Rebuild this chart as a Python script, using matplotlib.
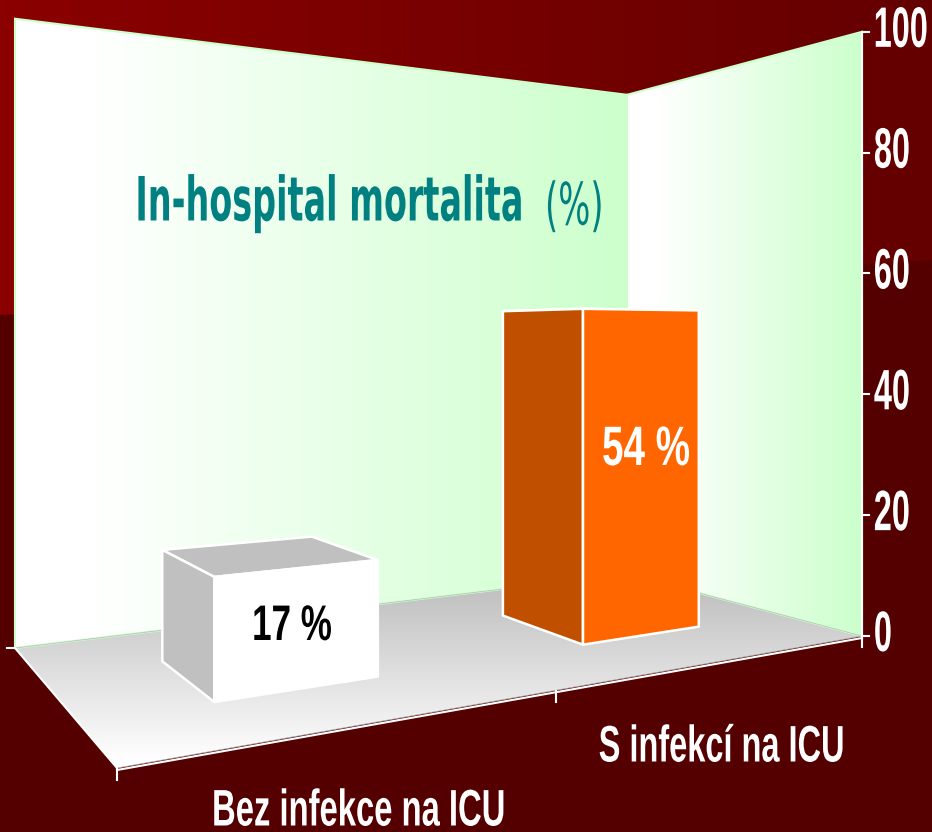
import matplotlib
matplotlib.use('Agg')
import matplotlib.pyplot as plt
import matplotlib.patheffects as pe
from matplotlib.patches import Polygon
from matplotlib.text import Text
from matplotlib.transforms import Affine2D, Bbox
import numpy as np

categories = ['Bez infekce na ICU', 'S infekcí na ICU']
values = [17, 54]
value_labels = ['17 %', '54 %']
y_ticks = [0, 20, 40, 60, 80, 100]

WIDTH, HEIGHT = 932, 832

# floor corners on the picture, the rest of the box follows from them
front_left = (117, 768)
front_right = (862, 636)
back_right = (627, 574)
back_left = (15, 648)
# height scale, fitted on the three wall edges
Z_SCALE = 8.64
Z_G, Z_H = 0.43, 0.373
CAT_SHIFT = -0.005  # categories sit a bit left of the even split


def make_projection():
    x0, y0 = front_left
    x1, y1 = front_right
    x2, y2 = back_right
    x3, y3 = back_left
    det = (x1 - x2) * (y3 - y2) - (x3 - x2) * (y1 - y2)
    sx = x0 - x1 + x2 - x3
    sy = y0 - y1 + y2 - y3
    g = (sx * (y3 - y2) - (x3 - x2) * sy) / det
    h = ((x1 - x2) * sy - sx * (y1 - y2)) / det
    a, b, c = x1 - x0 + g * x1, x3 - x0 + h * x3, x0
    d, e, f = y1 - y0 + g * y1, y3 - y0 + h * y3, y0

    def project(u, v, z=0):
        w = 1 + g * u + h * v
        lift = Z_SCALE * z / (1 + Z_G * u + Z_H * v)
        return (a * u + b * v + c) / w, (d * u + e * v + f) / w - lift
    return project


project = make_projection()


class Squeeze(pe.AbstractPathEffect):
    # the slide text is a stretched-narrow Arial, matplotlib has no such face
    def __init__(self, sx, x0):
        super().__init__()
        self.sx = sx
        self.x0 = x0

    def draw_path(self, renderer, gc, tpath, affine, rgbFace=None):
        squeeze = Affine2D().translate(-self.x0, 0).scale(self.sx, 1).translate(self.x0, 0)
        renderer.draw_path(gc, tpath, affine + squeeze, rgbFace)


class NarrowText(Text):
    def __init__(self, *args, squeeze=1.0, anchor=0.0, **kwargs):
        super().__init__(*args, **kwargs)
        self.squeeze = squeeze
        self.anchor = anchor

    def get_window_extent(self, renderer=None, dpi=None):
        bb = super().get_window_extent(renderer, dpi)
        return Bbox.from_extents(self.anchor + (bb.x0 - self.anchor) * self.squeeze, bb.y0,
                                 self.anchor + (bb.x1 - self.anchor) * self.squeeze, bb.y1)


def label(x, y, s, size, sx, color='white', weight='bold', ha='center', family='Liberation Sans'):
    x0 = ax.transData.transform((x, y))[0]
    t = NarrowText(x, y, s, squeeze=sx, anchor=x0, fontsize=size, color=color, fontweight=weight,
                   ha=ha, va='center', family=family, zorder=20)
    t.set_path_effects([Squeeze(sx, x0)])
    ax.add_artist(t)


def gradient(pts, c_start, c_end, vertical=False, start=None, end=None, zorder=1):
    pts = np.array(pts)
    c_start = np.array(matplotlib.colors.to_rgb(c_start))
    c_end = np.array(matplotlib.colors.to_rgb(c_end))
    x_min, x_max, y_min, y_max = pts[:, 0].min(), pts[:, 0].max(), pts[:, 1].min(), pts[:, 1].max()
    t = np.linspace(0, 1, 256)
    if start is not None:
        lo, hi = (y_min, y_max) if vertical else (x_min, x_max)
        pos = lo + t * (hi - lo)
        t = np.clip((pos - start) / (end - start), 0, 1)
    col = c_start + (c_end - c_start) * t[:, None]
    img = col[:, None, :] if vertical else col[None, :, :]
    im = ax.imshow(img, extent=(x_min, x_max, y_max, y_min), aspect='auto', zorder=zorder)
    patch = Polygon(pts, closed=True, transform=ax.transData, fc='none', ec='none')
    ax.add_patch(patch)
    im.set_clip_path(patch)


fig = plt.figure(figsize=(WIDTH / 100, HEIGHT / 100), dpi=100, facecolor='#550000')
ax = fig.add_axes([0, 0, 1, 1])
ax.axis('off')
ax.set_xlim(0, WIDTH)
ax.set_ylim(HEIGHT, 0)

# slide background, the light part ends on a slight slope
gradient([(0, 0), (WIDTH, 0), (WIDTH, 260), (0, 315)], '#8b0000', '#640000', zorder=0)

# walls and floor
left_wall = [project(0, 1), project(1, 1), project(1, 1, 100), project(0, 1, 100)]
right_wall = [project(1, 1), project(1, 0), project(1, 0, 100), project(1, 1, 100)]
floor = [project(0, 0), project(1, 0), project(1, 1), project(0, 1)]
gradient(left_wall, '#ffffff', '#ccffcc', start=90, end=627, zorder=1)
gradient(right_wall, '#ffffff', '#ccffcc', start=655, end=862, zorder=1)
gradient(floor, '#ffffff', '#bfbfbf', vertical=True, start=760, end=585, zorder=1)
for wall in (left_wall, right_wall):
    ax.add_patch(Polygon(wall, closed=True, fc='none', ec='#ccffcc', lw=1.5, zorder=2))
ax.add_patch(Polygon(floor, closed=True, fc='none', ec='#b8b8b8', lw=0.5, zorder=2))

# axes
ax_x, ax_bottom = project(1, 0)
ax_top = project(1, 0, 100)[1]
digit_w = 18
ax.plot([ax_x, ax_x], [ax_top, ax_bottom + 11], color='white', lw=1.5, zorder=5)
for tick in y_ticks:
    ty = project(1, 0, tick)[1]
    ax.plot([ax_x, ax_x + 7], [ty, ty], color='white', lw=1.5, zorder=5)
    # anchored on the right so the text stays inside the picture
    label(ax_x + 12 + digit_w * len(str(tick)), ty, str(tick), 41, 0.57, ha='right')

fx, fy = zip(project(0, 0), project(1, 0))
ax.plot(fx, np.array(fy) + 2, color='white', lw=1.5, zorder=5)
sx_, sy_ = zip(project(0, 1), project(0, 0))
ax.plot(np.array(sx_), np.array(sy_), color='white', lw=1.5, zorder=5)
for u in (0, 0.5 + CAT_SHIFT):
    tx, ty = project(u, 0)
    ax.plot([tx, tx], [ty + 1, ty + 12], color='white', lw=1.5, zorder=5)
tx, ty = project(0, 1)
ax.plot([tx - 8, tx], [ty, ty], color='white', lw=1.5, zorder=5)

# bars
bar_half = 0.1
v_front, v_back = 0.30, 0.685
side_colors = ['#c0c0c0', '#c05000']
top_colors = ['#c0c0c0', '#c05000']
front_colors = ['#ffffff', '#ff6600']
for i, val in enumerate(values):
    center = (i + 0.5) / len(values) + CAT_SHIFT
    u0, u1 = center - bar_half, center + bar_half
    side = [project(u0, v_back), project(u0, v_front), project(u0, v_front, val), project(u0, v_back, val)]
    top = [project(u0, v_back, val), project(u0, v_front, val), project(u1, v_front, val), project(u1, v_back, val)]
    front = [project(u0, v_front), project(u1, v_front), project(u1, v_front, val), project(u0, v_front, val)]
    for poly, col in ((top, top_colors[i]), (side, side_colors[i]), (front, front_colors[i])):
        ax.add_patch(Polygon(poly, closed=True, fc=col, ec='white', lw=1.8, joinstyle='round', zorder=6))

# text
label(523, 204, 'In-hospital mortalita', 44, 0.547, color='#008080', ha='right', family='DejaVu Sans')
label(545, 208, '(%)', 42, 0.58, color='#008080', weight='normal', ha='left', family='DejaVu Sans')
label(292, 627, value_labels[0], 36, 0.70, color='black')
label(646, 451, value_labels[1], 40, 0.695)
label(358.5, 812, categories[0], 37, 0.638)
label(721.5, 748, categories[1], 37, 0.633)

fig.savefig('out.png', dpi=100, facecolor=fig.get_facecolor())
